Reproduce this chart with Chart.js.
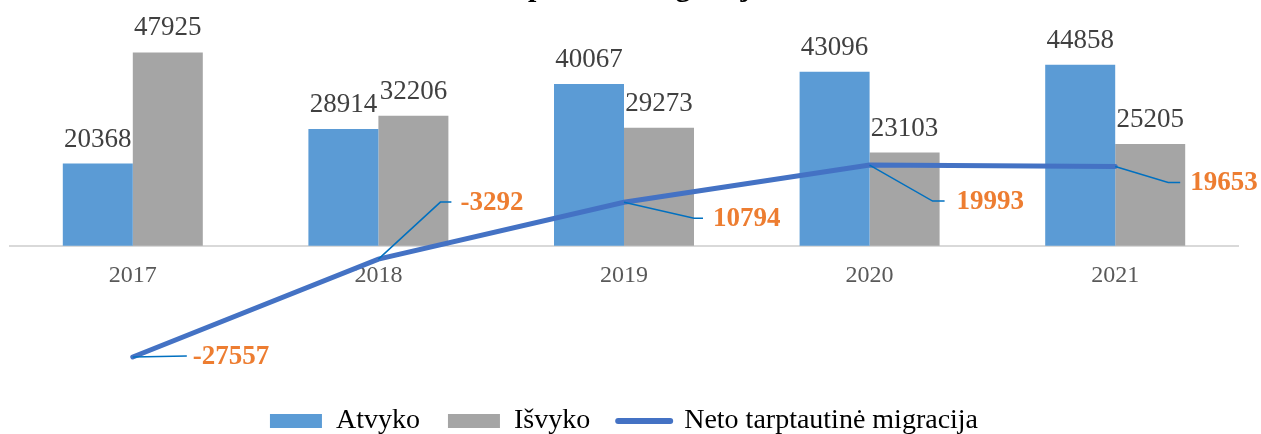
<!DOCTYPE html>
<html lang="lt">
<head>
<meta charset="utf-8">
<title>Tarptautinė migracija</title>
<script src="https://cdn.jsdelivr.net/npm/chart.js"></script>
<style>
  html, body { margin: 0; padding: 0; background: #fff; }
  /* the title sits above the visible frame, as in the source picture */
  #frame { position: relative; width: 1261px; height: 434px; overflow: hidden; }
  #holder { position: absolute; left: 0; top: -30px; width: 1261px; height: 493px; }
</style>
</head>
<body>
<div id="frame">
  <div id="holder"><canvas id="migration-chart"></canvas></div>
</div>
<script>
// ── Data ───────────────────────────────────────────────────────────────────
const years      = ["2017", "2018", "2019", "2020", "2021"];
const arrived    = [20368, 28914, 40067, 43096, 44858];
const departed   = [47925, 32206, 29273, 23103, 25205];
const netMigration = [-27557, -3292, 10794, 19993, 19653];

const titleText = "Tarptautinė migracija";
const seriesLabels = ["Atvyko", "Išvyko", "Neto tarptautinė migracija"];

// ── Style ──────────────────────────────────────────────────────────────────
const SERIF = "'Liberation Serif', 'Times New Roman', serif";
const COLORS = {
  arrived:  "#5B9BD5",
  departed: "#A5A5A5",
  net:      "#4472C4",
  leader:   "#0070C0",
  netLabel: "#ED7D31",
  barLabel: "#404040",
  tick:     "#595959",
  axis:     "#D9D9D9",
};

// leader line for each net label, in px from its point: elbow dx/dy, end dx, text dx
const netLabelLeaders = [
  { ex: 54, ey: -1, end: 54, tx: 60 },
  { ex: 62, ey: -57, end: 73, tx: 82 },
  { ex: 70, ey: 16, end: 79, tx: 89 },
  { ex: 63, ey: 36, end: 75, tx: 87 },
  { ex: 53, ey: 16, end: 65, tx: 75 },
];

// ── Value labels (bars + net line) ─────────────────────────────────────────
const valueLabels = {
  id: "valueLabels",
  afterDatasetsDraw(chart) {
    const ctx = chart.ctx;
    ctx.save();

    // bar values, centred above each bar
    ctx.font = `27px ${SERIF}`;
    ctx.fillStyle = COLORS.barLabel;
    ctx.textAlign = "center";
    ctx.textBaseline = "alphabetic";
    [0, 1].forEach((dsIndex) => {
      const meta = chart.getDatasetMeta(dsIndex);
      const values = chart.data.datasets[dsIndex].data;
      meta.data.forEach((bar, i) => {
        ctx.fillText(String(values[i]), bar.x, bar.y - 17);
      });
    });

    // net values with leader lines
    const lineMeta = chart.getDatasetMeta(2);
    lineMeta.data.forEach((pt, i) => {
      const l = netLabelLeaders[i];
      ctx.strokeStyle = COLORS.leader;
      ctx.lineWidth = 1.5;
      ctx.beginPath();
      ctx.moveTo(pt.x, pt.y);
      ctx.lineTo(pt.x + l.ex, pt.y + l.ey);
      ctx.lineTo(pt.x + l.end, pt.y + l.ey);
      ctx.stroke();

      ctx.font = `bold 27px ${SERIF}`;
      ctx.fillStyle = COLORS.netLabel;
      ctx.textAlign = "left";
      ctx.textBaseline = "middle";
      ctx.fillText(String(netMigration[i]), pt.x + l.tx, pt.y + l.ey + 1);
    });

    ctx.restore();
  },
};

// ── Chart ──────────────────────────────────────────────────────────────────
const ctx = document.getElementById("migration-chart").getContext("2d");
new Chart(ctx, {
  type: "bar",
  data: {
    labels: years,
    datasets: [
      {
        label:              seriesLabels[0],
        data:               arrived,
        backgroundColor:    COLORS.arrived,
        categoryPercentage: 0.57,
        barPercentage:      1,
        pointStyle:         "rect",
        order:              1,
      },
      {
        label:              seriesLabels[1],
        data:               departed,
        backgroundColor:    COLORS.departed,
        categoryPercentage: 0.57,
        barPercentage:      1,
        pointStyle:         "rect",
        order:              1,
      },
      {
        type:             "line",
        label:            seriesLabels[2],
        data:             netMigration,
        borderColor:      COLORS.net,
        backgroundColor:  COLORS.net,
        borderWidth:      5,
        borderCapStyle:   "round",
        tension:          0,
        pointRadius:      0,
        pointHoverRadius: 0,
        pointStyle:       "line",
        pointBorderColor: COLORS.net,
        pointBorderWidth: 6,
        clip:             false,
        order:            0,
      },
    ],
  },
  options: {
    responsive: true,
    maintainAspectRatio: false,
    animation: false,
    devicePixelRatio: 1,
    layout: { padding: { left: 10, right: 23, top: 0, bottom: 18 } },
    plugins: {
      title: {
        display: true,
        text: titleText,
        color: "#000",
        font: { family: SERIF, size: 30, weight: "bold" },
        padding: { top: 0, bottom: 38 },
      },
      legend: {
        position: "bottom",
        labels: {
          usePointStyle:   true,
          pointStyleWidth: 52,
          boxHeight:       14,
          padding:         28,
          color:           "#000",
          font:            { family: SERIF, size: 28 },
          sort:            (a, b) => a.datasetIndex - b.datasetIndex,
          generateLabels(chart) {
            const items = Chart.defaults.plugins.legend.labels.generateLabels(chart);
            items.forEach((it) => {
              if (it.datasetIndex === 2) {
                it.lineCap = "round";
                it.lineWidth = 6;
                it.strokeStyle = COLORS.net;
              }
            });
            return items;
          },
        },
      },
      tooltip: { enabled: false },
    },
    scales: {
      x: {
        position: { y: 0 },
        grid:   { display: false, drawTicks: false },
        border: { display: true, color: COLORS.axis, width: 2 },
        ticks:  { color: COLORS.tick, padding: 15, font: { family: SERIF, size: 24 } },
        afterFit(scale) { scale.height = 0; },
      },
      y: {
        display: false,
        min: -33000,
        max: 50000,
      },
    },
  },
  plugins: [valueLabels],
});
</script>
</body>
</html>
